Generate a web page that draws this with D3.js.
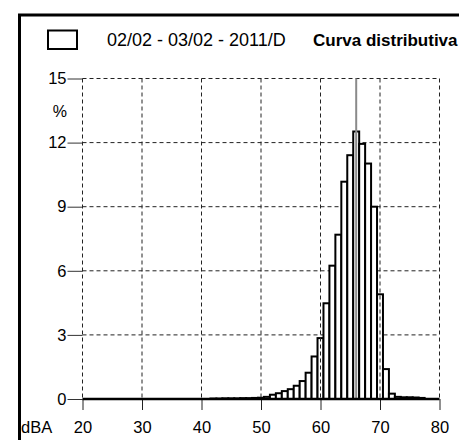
<!DOCTYPE html>
<html>
<head>
<meta charset="utf-8">
<script src="https://cdn.jsdelivr.net/npm/d3@7"></script>
<style>
  body { margin: 0; background: #fff; }
  svg { display: block; font-family: "Liberation Sans", Arial, sans-serif; }
</style>
</head>
<body>
<div id="chart"></div>
<script>
// level classes (dBA) and percentage of time in each class
const levels = [42, 43, 44, 45, 46, 47, 48, 49, 50, 51, 52, 53, 54, 55, 56, 57, 58, 59,
  60, 61, 62, 63, 64, 65, 66, 67, 68, 69, 70, 71, 72, 73, 74, 75, 76, 77];
const percents = [0.02, 0.02, 0.03, 0.03, 0.03, 0.04, 0.04, 0.05, 0.06, 0.1, 0.2, 0.27, 0.37, 0.46, 0.62, 0.84, 1.23, 1.99,
  2.85, 4.48, 6.24, 7.69, 10.17, 11.41, 12.52, 11.94, 11.02, 9.0, 4.9, 1.4, 0.25, 0.1, 0.08, 0.08, 0.07, 0.05];
const xTicks = [20, 30, 40, 50, 60, 70, 80];
const yTicks = [0, 3, 6, 9, 12, 15];
const markerLevel = 66;
const periodLabel = "02/02 - 03/02 - 2011/D";
const titleLabel = "Curva distributiva";

const width = 459;
const height = 440;

const svg = d3.select("#chart")
  .append("svg")
  .attr("width", width)
  .attr("height", height);

// scales
const x = d3.scaleLinear().domain([20, 80]).range([82.5, 439.5]);
const y = d3.scaleLinear().domain([0, 15]).range([399, 78.5]);

// outer frame (left + top only, right side is cut off)
svg.append("path")
  .attr("d", `M19.5,${height} V15 H${width}`)
  .attr("fill", "none")
  .attr("stroke", "#000")
  .attr("stroke-width", 3);

// header
svg.append("rect")
  .attr("x", 48).attr("y", 30.5)
  .attr("width", 29).attr("height", 18.5)
  .attr("fill", "#fff")
  .attr("stroke", "#000")
  .attr("stroke-width", 2);

svg.append("text")
  .attr("x", 107).attr("y", 45.5)
  .style("font-size", "18px")
  .text(periodLabel);

svg.append("text")
  .attr("x", 313).attr("y", 46)
  .style("font-size", "17px")
  .style("font-weight", "bold")
  .text(titleLabel);

// horizontal grid (under the bars)
svg.append("g")
  .selectAll("line")
  .data(yTicks.filter((d) => d > 0))
  .join("line")
  .attr("x1", x(20)).attr("x2", x(80))
  .attr("y1", (d) => y(d)).attr("y2", (d) => y(d))
  .attr("stroke", "#222")
  .attr("stroke-width", 1)
  .attr("stroke-dasharray", "4,3");

// bars
svg.append("g")
  .selectAll("rect")
  .data(levels.map((l, i) => ({ level: l, value: percents[i] })))
  .join("rect")
  .attr("x", (d) => x(d.level - 0.5))
  .attr("y", (d) => y(d.value))
  .attr("width", (d) => x(d.level + 0.5) - x(d.level - 0.5))
  .attr("height", (d) => y(0) - y(d.value))
  .attr("fill", "#fff")
  .attr("stroke", "#000")
  .attr("stroke-width", 2);

// vertical grid
svg.append("g")
  .selectAll("line")
  .data(xTicks)
  .join("line")
  .attr("x1", (d) => x(d)).attr("x2", (d) => x(d))
  .attr("y1", y(15)).attr("y2", y(0))
  .attr("stroke", "#222")
  .attr("stroke-width", 1)
  .attr("stroke-dasharray", "4,3");

// marker line
svg.append("line")
  .attr("x1", x(markerLevel)).attr("x2", x(markerLevel))
  .attr("y1", y(15)).attr("y2", y(0))
  .attr("stroke", "#8a8a8a")
  .attr("stroke-width", 2);

// y axis
const yAxis = svg.append("g")
  .attr("transform", `translate(${x(20)},0)`)
  .call(d3.axisLeft(y).tickValues(yTicks).tickSize(15).tickPadding(1));
yAxis.select(".domain").remove();
yAxis.selectAll("line").attr("stroke", "#333");
yAxis.selectAll("text")
  .attr("fill", "#000")
  .style("font-size", "16.5px")
  .style("font-family", "'Liberation Sans', Arial, sans-serif");

// x axis
const xAxis = svg.append("g")
  .attr("transform", `translate(0,${y(0)})`)
  .call(d3.axisBottom(x).tickValues(xTicks).tickSize(11).tickPadding(11));
xAxis.select(".domain").remove();
xAxis.selectAll("line").attr("stroke", "#222");
xAxis.selectAll("text")
  .attr("fill", "#000")
  .style("font-size", "16.5px")
  .style("font-family", "'Liberation Sans', Arial, sans-serif");

// baseline
svg.append("line")
  .attr("x1", x(20)).attr("x2", x(80))
  .attr("y1", y(0)).attr("y2", y(0))
  .attr("stroke", "#000")
  .attr("stroke-width", 2.5);

// unit labels
svg.append("text")
  .attr("x", 67).attr("y", 111)
  .attr("dy", "0.35em")
  .attr("text-anchor", "end")
  .style("font-size", "16px")
  .text("%");

svg.append("text")
  .attr("x", 21).attr("y", 433)
  .style("font-size", "16.5px")
  .text("dBA");
</script>
</body>
</html>
